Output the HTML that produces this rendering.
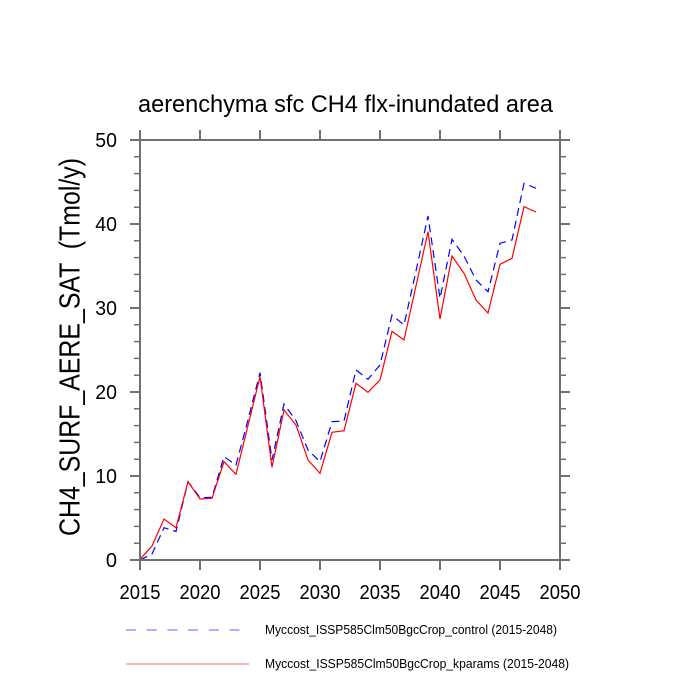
<!DOCTYPE html>
<html>
<head>
<meta charset="utf-8">
<style>
  html, body { margin: 0; padding: 0; background: #ffffff; }
  svg { display: block; }
  text { font-family: "Liberation Sans", "DejaVu Sans", sans-serif; fill: #000; }
</style>
</head>
<body>
<svg width="700" height="700" viewBox="0 0 700 700" xmlns="http://www.w3.org/2000/svg">
  <rect x="0" y="0" width="700" height="700" fill="#ffffff"/>

  <!-- Title -->
  <text x="138" y="112" font-size="24" textLength="415" lengthAdjust="spacingAndGlyphs">aerenchyma sfc CH4 flx-inundated area</text>

  <!-- Y axis label -->
  <text transform="translate(79.5,347) rotate(-90)" x="0" y="0" font-size="29" text-anchor="middle" textLength="378" lengthAdjust="spacingAndGlyphs" style="white-space:pre" xml:space="preserve">CH4_SURF_AERE_SAT  (Tmol/y)</text>

  <!-- Series -->
  <polyline fill="none" stroke="#0000ff" stroke-width="1.2" stroke-dasharray="8 5"
    points="140,560 152,554 164,527.7 176,531.5 188,481.7 200,497.7 212,497.3 224,456.7 236,465 248,420 260,372.7 272,460 284,404 296,420.7 308,450 320,461.7 332,421.7 344,421 356,370 368,379.3 380,365 392,315 404,325 416,271 428,216 440,298.3 452,239.3 464,256 476,280 488,291.7 500,243.3 512,240 524,183.3 536,188.3"/>
  <polyline fill="none" stroke="#ff0000" stroke-width="1.2"
    points="140,559.3 152,546 164,519 176,527.7 188,481.7 200,499 212,498.3 224,461.7 236,474.3 248,425.5 260,376.7 272,467.3 284,410 296,425 308,460 320,473.3 332,432.3 344,430.7 356,383.3 368,392.3 380,380 392,331.3 404,340 416,285.7 428,231.7 440,319 452,256 464,273.3 476,300 488,313 500,264.3 512,258.3 524,206.7 536,212"/>

  <!-- Frame -->
  <rect x="140" y="140" width="420" height="420" fill="none" stroke="#707070" stroke-width="2"/>

  <!-- Ticks -->
  <g stroke="#707070" stroke-width="2">
    <path d="M140,560V570 M200,560V570 M260,560V570 M320,560V570 M380,560V570 M440,560V570 M500,560V570 M560,560V570
             M140,140V130 M200,140V130 M260,140V130 M320,140V130 M380,140V130 M440,140V130 M500,140V130 M560,140V130"/>
    <path d="M140,560H130 M140,476H130 M140,392H130 M140,308H130 M140,224H130 M140,140H130
             M560,560H570 M560,476H570 M560,392H570 M560,308H570 M560,224H570 M560,140H570"/>
  </g>
  <g stroke="#707070" stroke-width="1.5">
    <path d="M140,543.2H134 M140,526.4H134 M140,509.6H134 M140,492.8H134
             M140,459.2H134 M140,442.4H134 M140,425.6H134 M140,408.8H134
             M140,375.2H134 M140,358.4H134 M140,341.6H134 M140,324.8H134
             M140,291.2H134 M140,274.4H134 M140,257.6H134 M140,240.8H134
             M140,207.2H134 M140,190.4H134 M140,173.6H134 M140,156.8H134
             M560,543.2H566 M560,526.4H566 M560,509.6H566 M560,492.8H566
             M560,459.2H566 M560,442.4H566 M560,425.6H566 M560,408.8H566
             M560,375.2H566 M560,358.4H566 M560,341.6H566 M560,324.8H566
             M560,291.2H566 M560,274.4H566 M560,257.6H566 M560,240.8H566
             M560,207.2H566 M560,190.4H566 M560,173.6H566 M560,156.8H566"/>
  </g>

  <!-- Y tick labels -->
  <g font-size="20" text-anchor="end">
    <text x="117" y="567">0</text>
    <text x="117" y="483" textLength="21.7" lengthAdjust="spacingAndGlyphs">10</text>
    <text x="117" y="399" textLength="21.7" lengthAdjust="spacingAndGlyphs">20</text>
    <text x="117" y="315" textLength="21.7" lengthAdjust="spacingAndGlyphs">30</text>
    <text x="117" y="231" textLength="21.7" lengthAdjust="spacingAndGlyphs">40</text>
    <text x="117" y="147" textLength="21.7" lengthAdjust="spacingAndGlyphs">50</text>
  </g>

  <!-- X tick labels -->
  <g font-size="20" text-anchor="middle">
    <text x="140" y="599" textLength="41" lengthAdjust="spacingAndGlyphs">2015</text>
    <text x="200" y="599" textLength="41" lengthAdjust="spacingAndGlyphs">2020</text>
    <text x="260" y="599" textLength="41" lengthAdjust="spacingAndGlyphs">2025</text>
    <text x="320" y="599" textLength="41" lengthAdjust="spacingAndGlyphs">2030</text>
    <text x="380" y="599" textLength="41" lengthAdjust="spacingAndGlyphs">2035</text>
    <text x="440" y="599" textLength="41" lengthAdjust="spacingAndGlyphs">2040</text>
    <text x="500" y="599" textLength="41" lengthAdjust="spacingAndGlyphs">2045</text>
    <text x="560" y="599" textLength="41" lengthAdjust="spacingAndGlyphs">2050</text>
  </g>

  <!-- Legend -->
  <line x1="126" y1="630" x2="241" y2="630" stroke="#8080ff" stroke-width="1.2" stroke-dasharray="10 10.7"/>
  <text x="265" y="634" font-size="12.5" textLength="292" lengthAdjust="spacingAndGlyphs">Myccost_ISSP585Clm50BgcCrop_control (2015-2048)</text>
  <line x1="126" y1="664" x2="249" y2="664" stroke="#ff8a8a" stroke-width="1.2"/>
  <text x="265" y="668" font-size="12.5" textLength="304" lengthAdjust="spacingAndGlyphs">Myccost_ISSP585Clm50BgcCrop_kparams (2015-2048)</text>
</svg>
</body>
</html>
